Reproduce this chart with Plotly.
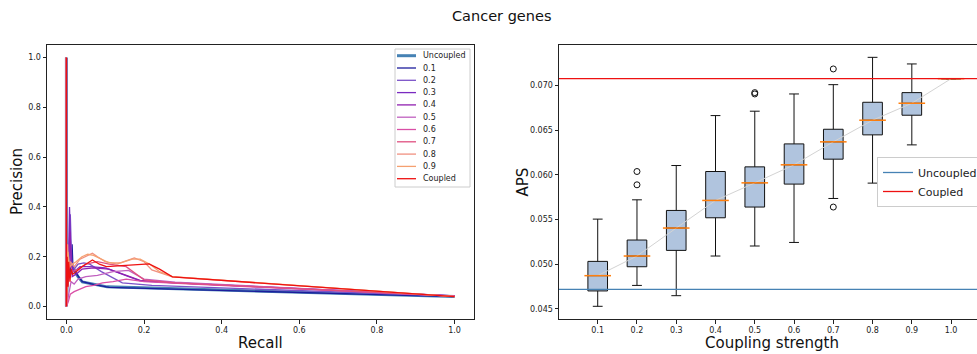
import plotly.graph_objects as go

W, H = 977, 354
FONT = "DejaVu Sans"

# ---------------- Left panel: precision-recall curves ----------------
series_names = ["Uncoupled", "0.1", "0.2", "0.3", "0.4", "0.5", "0.6", "0.7", "0.8", "0.9", "Coupled"]
series_colors = ["#4682b4", "#1c1c9c", "#7b52c8", "#7a2ac0", "#9020b0", "#c060c0",
                 "#d94fa6", "#e05080", "#f09080", "#f5a070", "#ee1111"]

recall_uncoupled = [0, 0, 0.002, 0.004, 0.006, 0.009, 0.012, 0.016, 0.022, 0.030, 0.041, 0.070, 0.105, 1.0]
prec_uncoupled = [1.0, 0.0, 0.10, 0.14, 0.12, 0.15, 0.13, 0.16, 0.14, 0.12, 0.099, 0.090, 0.079, 0.040]

recall_01 = [0, 0, 0.003, 0.007, 0.011, 0.0147, 0.017, 0.022, 0.030, 0.041, 0.070, 0.110, 1.0]
prec_01 = [1.0, 0.0, 0.12, 0.16, 0.14, 0.25, 0.15, 0.14, 0.12, 0.10, 0.089, 0.077, 0.040]

recall_02 = [0, 0, 0.004, 0.008, 0.010, 0.014, 0.020, 0.030, 0.045, 0.060, 0.090, 0.144, 0.220, 1.0]
prec_02 = [1.0, 0.0, 0.14, 0.18, 0.37, 0.16, 0.15, 0.17, 0.175, 0.17, 0.14, 0.095, 0.085, 0.042]

recall_03 = [0, 0, 0.005, 0.008, 0.012, 0.020, 0.035, 0.060, 0.100, 0.190, 0.280, 1.0]
prec_03 = [1.0, 0.0, 0.15, 0.40, 0.17, 0.14, 0.16, 0.16, 0.155, 0.103, 0.095, 0.043]

recall_04 = [0, 0, 0.004, 0.009, 0.015, 0.025, 0.040, 0.070, 0.110, 0.190, 0.260, 1.0]
prec_04 = [1.0, 0.0, 0.13, 0.30, 0.12, 0.13, 0.15, 0.155, 0.15, 0.105, 0.097, 0.043]

recall_05 = [0, 0, 0.006, 0.012, 0.020, 0.030, 0.050, 0.080, 0.120, 0.160, 0.200, 0.280, 1.0]
prec_05 = [1.0, 0.0, 0.05, 0.10, 0.09, 0.11, 0.12, 0.125, 0.14, 0.145, 0.11, 0.098, 0.042]

recall_06 = [0, 0, 0.005, 0.010, 0.020, 0.035, 0.050, 0.070, 0.093, 0.120, 0.154, 0.200, 0.300, 1.0]
prec_06 = [1.0, 0.0, 0.02, 0.05, 0.06, 0.07, 0.08, 0.085, 0.095, 0.10, 0.11, 0.10, 0.092, 0.042]

recall_07 = [0, 0, 0.004, 0.008, 0.015, 0.030, 0.050, 0.080, 0.110, 0.130, 0.154, 0.200, 0.280, 1.0]
prec_07 = [1.0, 0.0, 0.12, 0.18, 0.14, 0.15, 0.17, 0.18, 0.17, 0.165, 0.16, 0.107, 0.095, 0.042]

recall_08 = [0, 0, 0.003, 0.006, 0.010, 0.020, 0.035, 0.050, 0.067, 0.080, 0.100, 0.130, 0.160, 0.175, 0.200, 0.220, 0.273, 1.0]
prec_08 = [1.0, 0.0, 0.25, 0.15, 0.18, 0.16, 0.19, 0.20, 0.214, 0.20, 0.18, 0.17, 0.185, 0.195, 0.18, 0.147, 0.119, 0.040]

recall_09 = [0, 0, 0.004, 0.008, 0.015, 0.025, 0.040, 0.055, 0.070, 0.090, 0.110, 0.140, 0.170, 0.190, 0.215, 0.240, 0.273, 1.0]
prec_09 = [1.0, 0.0, 0.22, 0.16, 0.17, 0.18, 0.20, 0.21, 0.205, 0.19, 0.175, 0.175, 0.19, 0.19, 0.17, 0.14, 0.12, 0.040]

recall_coupled = [0, 0, 0.002, 0.004, 0.006, 0.009, 0.012, 0.016, 0.025, 0.040, 0.067, 0.085, 0.103, 0.150, 0.213, 0.240, 0.273, 1.0]
prec_coupled = [1.0, 0.0, 0.20, 0.08, 0.18, 0.10, 0.15, 0.13, 0.14, 0.16, 0.187, 0.17, 0.16, 0.165, 0.171, 0.15, 0.119, 0.040]

pr_curves = [
    (recall_uncoupled, prec_uncoupled), (recall_01, prec_01), (recall_02, prec_02),
    (recall_03, prec_03), (recall_04, prec_04), (recall_05, prec_05), (recall_06, prec_06),
    (recall_07, prec_07), (recall_08, prec_08), (recall_09, prec_09),
    (recall_coupled, prec_coupled),
]

# ---------------- Right panel: APS box plots ----------------
coupling_labels = ["0.1", "0.2", "0.3", "0.4", "0.5", "0.6", "0.7", "0.8", "0.9", "1.0"]
aps_q1 = [0.04702, 0.04973, 0.05156, 0.05521, 0.05641, 0.05898, 0.06177, 0.06449, 0.06669, 0.07078]
aps_median = [0.04873, 0.05093, 0.05406, 0.05715, 0.05912, 0.06114, 0.06371, 0.06613, 0.06803, 0.07078]
aps_q3 = [0.05033, 0.05272, 0.05603, 0.06039, 0.06091, 0.06348, 0.06512, 0.06814, 0.06922, 0.07078]
aps_low = [0.04530, 0.04764, 0.04649, 0.05093, 0.05205, 0.05245, 0.05737, 0.05909, 0.06337, 0.07078]
aps_high = [0.05506, 0.05722, 0.06106, 0.06665, 0.06714, 0.06907, 0.07011, 0.07317, 0.07243, 0.07078]
outlier_strength = ["0.2", "0.2", "0.5", "0.5", "0.7", "0.7"]
outlier_aps = [0.06039, 0.05890, 0.06922, 0.06907, 0.07187, 0.05641]
aps_uncoupled = 0.0472
aps_coupled = 0.07078

positions = list(range(1, len(coupling_labels) + 1))
pos_of = {lab: p for lab, p in zip(coupling_labels, positions)}

fig = go.Figure()

# left curves
for (r, p), name, col in zip(pr_curves, series_names, series_colors):
    fig.add_trace(go.Scatter(
        x=r, y=p, mode="lines", name=name, showlegend=False,
        line=dict(color=col, width=3 if name == "Uncoupled" else 1.3),
        xaxis="x", yaxis="y"))

# right: median connecting line
fig.add_trace(go.Scatter(x=positions, y=aps_median, mode="lines", showlegend=False,
                         line=dict(color="#d3d3d3", width=1), xaxis="x2", yaxis="y2"))
# boxes
fig.add_trace(go.Box(x=positions, q1=aps_q1, median=aps_median, q3=aps_q3,
                     lowerfence=aps_low, upperfence=aps_high, width=0.5, whiskerwidth=0.5,
                     fillcolor="#b0c4de", line=dict(color="#111111", width=1),
                     boxpoints=False, showlegend=False, xaxis="x2", yaxis="y2"))
# medians in orange
fig.add_trace(go.Scatter(x=positions, y=aps_median, mode="markers", showlegend=False,
                         marker=dict(symbol="line-ew", size=19, color="#ff7f0e",
                                     line=dict(color="#ff7f0e", width=1.5)),
                         xaxis="x2", yaxis="y2"))
# outliers
fig.add_trace(go.Scatter(x=[pos_of[s] for s in outlier_strength], y=outlier_aps, mode="markers",
                         showlegend=False,
                         marker=dict(symbol="circle-open", size=6, color="#111111",
                                     line=dict(color="#111111", width=1)),
                         xaxis="x2", yaxis="y2"))

# horizontal reference lines (in legend2)
fig.add_shape(type="line", xref="x2 domain", x0=0, x1=1, yref="y2", y0=aps_uncoupled, y1=aps_uncoupled,
              line=dict(color="#4682b4", width=1.3), name="Uncoupled", showlegend=True, legend="legend2")
fig.add_shape(type="line", xref="x2 domain", x0=0, x1=1, yref="y2", y0=aps_coupled, y1=aps_coupled,
              line=dict(color="#ee1111", width=1.3), name="Coupled", showlegend=True, legend="legend2")

# manual legend for left panel
def px(xp):
    return xp / W

def py(yp):
    return 1 - yp / H

fig.add_shape(type="rect", xref="paper", yref="paper", x0=px(395), x1=px(470), y0=py(49), y1=py(187),
              line=dict(color="#cccccc", width=1), fillcolor="white", layer="above")
for i, (name, col) in enumerate(zip(series_names, series_colors)):
    yy = 55.7 + 12.3 * i
    fig.add_shape(type="line", xref="paper", yref="paper", x0=px(397), x1=px(416), y0=py(yy), y1=py(yy),
                  line=dict(color=col, width=3 if name == "Uncoupled" else 1.3), layer="above")
    fig.add_annotation(x=px(421), y=py(yy), xref="paper", yref="paper", text=name, showarrow=False,
                       xanchor="left", yanchor="middle", font=dict(family=FONT, size=8, color="#222"))

axis_common = dict(showline=True, linecolor="#222", linewidth=1, ticks="outside", ticklen=3.5,
                   tickcolor="#222", tickwidth=0.8, showgrid=False, zeroline=False,
                   tickfont=dict(family=FONT, size=8, color="#222"))

y0d, y1d = 1 - 319 / H, 1 - 45 / H
fig.update_layout(
    width=W, height=H,
    margin=dict(l=0, r=0, t=0, b=0, autoexpand=False),
    paper_bgcolor="white", plot_bgcolor="white",
    font=dict(family=FONT, color="#222"),
    xaxis=dict(domain=[47 / W, 474 / W], range=[-0.05, 1.05], tickvals=[0, 0.2, 0.4, 0.6, 0.8, 1.0],
               tickformat=".1f", mirror=True, anchor="y", **axis_common),
    yaxis=dict(domain=[y0d, y1d], range=[-0.05, 1.05], tickvals=[0, 0.2, 0.4, 0.6, 0.8, 1.0],
               tickformat=".1f", mirror=True, anchor="x", **axis_common),
    xaxis2=dict(domain=[559 / W, 1.0], range=[0.014, 10.66], tickvals=positions, ticktext=coupling_labels,
                mirror=True, anchor="y2", **axis_common),
    yaxis2=dict(domain=[y0d, y1d], range=[0.04388, 0.07455], dtick=0.005, tick0=0.045,
                tickformat=".3f", mirror=False, anchor="x2", **axis_common),
    legend2=dict(x=877 / W, y=1 - 157 / H, xanchor="left", yanchor="top", bgcolor="white",
                 bordercolor="#cccccc", borderwidth=1, font=dict(family=FONT, size=11, color="#222"),
                 tracegroupgap=0),
    showlegend=True,
)

# titles
fig.add_annotation(x=501.5 / W, y=1 - 16 / H, xref="paper", yref="paper", text="Cancer genes",
                   showarrow=False, xanchor="center", yanchor="middle",
                   font=dict(family=FONT, size=14.5, color="#111"))
fig.add_annotation(x=260.5 / W, y=1 - 342.7 / H, xref="paper", yref="paper", text="Recall",
                   showarrow=False, xanchor="center", yanchor="middle", font=dict(family=FONT, size=15, color="#111"))
fig.add_annotation(x=771.7 / W, y=1 - 342.7 / H, xref="paper", yref="paper", text="Coupling strength",
                   showarrow=False, xanchor="center", yanchor="middle", font=dict(family=FONT, size=15, color="#111"))
fig.add_annotation(x=17 / W, y=1 - 182 / H, xref="paper", yref="paper", text="Precision", textangle=-90,
                   showarrow=False, xanchor="center", yanchor="middle", font=dict(family=FONT, size=15, color="#111"))
fig.add_annotation(x=522 / W, y=1 - 182.5 / H, xref="paper", yref="paper", text="APS", textangle=-90,
                   showarrow=False, xanchor="center", yanchor="middle", font=dict(family=FONT, size=15, color="#111"))

fig.write_html("out.html", config={"displayModeBar": False},
               post_script="document.body.style.margin='0';document.body.style.overflow='hidden';")
